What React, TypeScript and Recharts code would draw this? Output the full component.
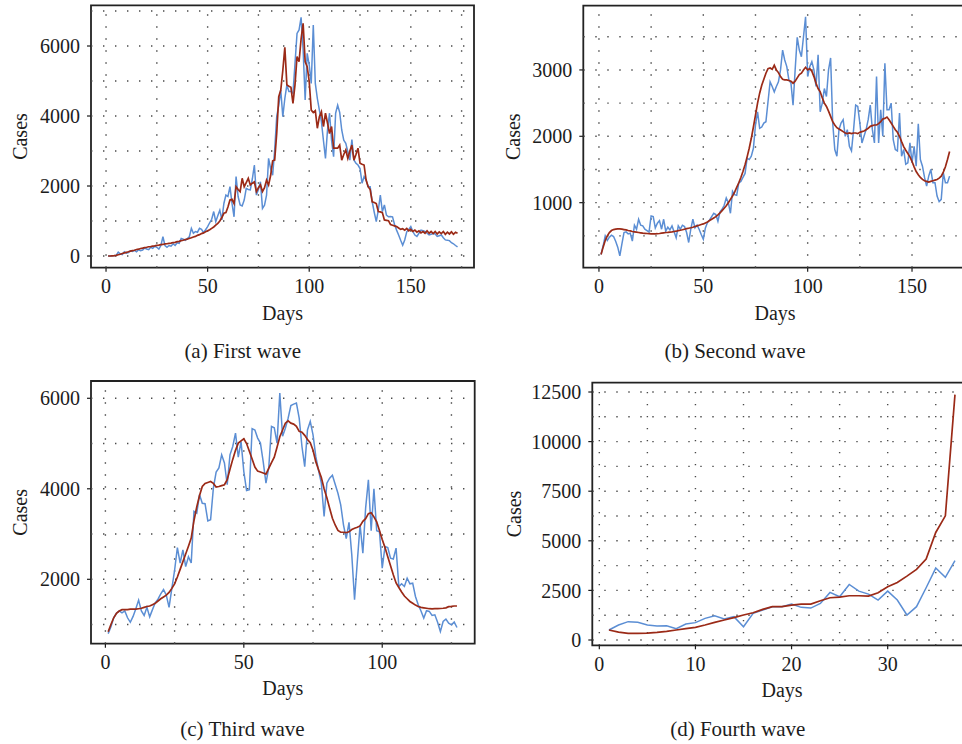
import React from 'react';
import { LineChart, Line, XAxis, YAxis, ReferenceLine, ReferenceArea } from 'recharts';

const FONT = '"Liberation Serif", "Times New Roman", serif';
const BLUE = '#5b8ed4';
const RED = '#9b2a17';
const INK = '#1c1c1c';
const GRID = '#4a4a4a';

// ---------- (a) First wave ----------
const observedA = [
  0, 0, 5, 10, 20, 110, 60, 40, 120, 80, 100, 150, 130, 160, 120, 180, 150, 170, 230, 200,
  180, 250, 220, 280, 250, 200, 300, 550, 300, 250, 300, 280, 350, 300, 380, 360, 500, 480, 450, 500,
  550, 790, 650, 700, 680, 790, 760, 670, 750, 840, 950, 1050, 1270, 980, 1150, 1310, 1030, 1500, 1740, 1700,
  1980, 1500, 1120, 2270, 1700, 1460, 1430, 1600, 1930, 1900, 1890, 2200, 2600, 1740, 1900, 2120, 1360, 1450, 1740, 2790,
  2500, 2310, 3030, 3980, 4300, 4740, 3980, 4500, 4890, 4700, 4700, 4650, 5500, 6360, 6460, 6820, 5890, 4460, 5790, 5460,
  4930, 6600, 4930, 4500, 4170, 3840, 3300, 2790, 3600, 4080, 3300, 2840, 4080, 4310, 4100, 3600, 3310, 3220, 2980, 2740,
  3330, 2740, 2650, 2600, 2500, 2080, 2270, 2170, 1980, 1980, 1550, 1250, 980, 1310, 1740, 1270, 1460, 1170, 1120, 1130,
  1120, 900, 740, 600, 450, 310, 460, 690, 760, 840, 700, 600, 560, 650, 740, 720, 700, 650, 600, 620,
  640, 630, 560, 580, 600, 520, 460, 450, 440, 380, 350, 300, 260,
];
const fittedA = [
  0, 0, 5, 10, 20, 35, 50, 70, 90, 105, 120, 140, 155, 165, 185, 195, 215, 225, 240, 250,
  265, 270, 285, 290, 305, 310, 325, 330, 345, 350, 360, 370, 385, 390, 410, 420, 440, 450, 470, 480,
  505, 520, 545, 560, 590, 610, 640, 660, 690, 720, 750, 790, 830, 880, 930, 1000, 1100, 1220, 1240, 1400,
  1600, 1620, 1500, 1980, 1900, 1840, 2220, 1980, 2100, 2220, 2030, 2080, 2120, 1840, 1950, 2030, 1840, 1950, 2170, 2030,
  2300, 2720, 2740, 3500, 4550, 4740, 5300, 5960, 4890, 4850, 4820, 4360, 4890, 5700, 5550, 6200, 6650, 5550, 5410, 4980,
  4170, 4100, 4150, 3650, 3980, 4120, 3700, 4080, 3800, 3500, 3700, 3080, 3080, 3080, 3170, 2740, 2900, 3030, 2790, 3000,
  3170, 2740, 2900, 3080, 2650, 2620, 2600, 2170, 1980, 1900, 1550, 1530, 1500, 1270, 1260, 1240, 1030, 1020, 1010, 900,
  880, 860, 840, 800, 760, 780, 740, 790, 720, 760, 700, 740, 680, 720, 660, 700, 650, 720, 650, 700,
  640, 700, 630, 690, 640, 700, 620, 680, 630, 690, 620, 680, 650,
];
const xTicksA = [0, 50, 100, 150];
const yTicksA = [0, 2000, 4000, 6000];
const xGridA = [0, 25, 50, 75, 100, 125, 150, 175];
const yGridA = [0, 1000, 2000, 3000, 4000, 5000, 6000, 7000];

// ---------- (b) Second wave ----------
const observedB = [
  220, 350, 500, 430, 480, 510, 490, 420, 330, 200, 380, 550, 560, 530, 540, 420, 660, 600, 750, 660,
  650, 600, 580, 560, 800, 790, 620, 690, 730, 600, 750, 570, 630, 590, 650, 560, 470, 650, 600, 660,
  640, 550, 400, 600, 750, 620, 660, 600, 520, 450, 620, 700, 740, 790, 840, 820, 720, 860, 900, 960,
  1070, 1000, 840, 1170, 1120, 1110, 1300, 1320, 1380, 1440, 1670, 1650, 1700, 1820, 2170, 2370, 2120, 2140, 2200, 2220,
  2520, 2820, 2750, 2670, 2750, 2820, 3000, 3300, 3150, 3050, 2850, 2800, 2470, 3000, 3490, 3300, 3200, 3500, 3800, 2900,
  3050, 3125, 3000, 2750, 3230, 2370, 2500, 2720, 2600, 3000, 3180, 2200, 1800, 1700, 2100, 2200, 2250, 2000, 2100, 1850,
  1780, 2100, 2470, 2450, 2200, 1900, 2000, 2100, 2250, 2470, 2100, 1900, 2900, 1900, 2400, 2000, 3100, 2400, 2400, 2500,
  1950, 1800, 1780, 2350, 1700, 1800, 1580, 1600, 1900, 1600, 1850, 1550, 2190, 1650, 1550, 1380, 1250, 1400, 1500, 1300,
  1300, 1100, 1015, 1050, 1450, 1300, 1300, 1400,
];
const fittedB = [
  220, 330, 430, 500, 550, 580, 595, 600, 605, 605, 600, 595, 590, 580, 575, 565, 560, 555, 550, 545,
  540, 538, 535, 533, 530, 530, 530, 532, 535, 540, 545, 550, 553, 557, 560, 565, 570, 578, 585, 592,
  600, 608, 615, 622, 630, 640, 650, 660, 670, 680, 695, 710, 730, 750, 770, 790, 815, 845, 880, 915,
  955, 1000, 1050, 1100, 1160, 1230, 1300, 1380, 1470, 1570, 1690, 1820, 1970, 2140, 2320, 2500, 2650, 2770, 2860, 2950,
  3020, 3030, 3010, 3070, 3000, 2960, 2900, 2860, 2850, 2850, 2840, 2830, 2800, 2830, 2880, 2930, 2950, 3000, 3040, 3000,
  3020, 2980, 2900, 2800, 2720, 2670, 2580, 2500, 2450, 2380, 2300, 2220, 2170, 2130, 2110, 2090, 2070, 2050, 2040, 2050,
  2040, 2050, 2050, 2040, 2060, 2070, 2080, 2100, 2120, 2150, 2160, 2170, 2170, 2190, 2220, 2260, 2270, 2290, 2250, 2200,
  2150, 2100, 2060, 2000, 1920, 1845, 1790, 1740, 1690, 1620, 1540, 1470, 1420, 1380, 1350, 1330, 1320, 1310, 1320, 1330,
  1340, 1350, 1370, 1400, 1460, 1540, 1650, 1770,
];
const xTicksB = [0, 50, 100, 150];
const yTicksB = [1000, 2000, 3000];
const xGridB = [0, 25, 50, 75, 100, 125, 150, 175];
const yGridB = [500, 1000, 1500, 2000, 2500, 3000, 3500];

// ---------- (c) Third wave ----------
const observedC = [
  800, 950, 1150, 1250, 1300, 1260, 1300, 1150, 1050, 1180, 1350, 1540, 1300, 1200, 1380, 1170, 1330, 1480, 1560, 1680,
  1775, 1650, 1380, 1800, 2200, 2700, 2360, 2650, 2280, 2500, 2360, 3500, 3460, 3870, 3680, 3670, 3290, 3315, 4015, 4370,
  4460, 4750, 4570, 4090, 4750, 4935, 5230, 4700, 5045, 4380, 3960, 3980, 5330, 5300, 5120, 5010, 4600, 4125, 4460, 5380,
  5350, 5010, 6115, 5160, 5340, 5560, 5840, 5870, 5893, 5560, 4935, 4490, 5300, 5490, 5190, 4715, 4400, 4125, 3390, 4125,
  4236, 4300, 4100, 3900, 3646, 3204, 2900, 3260, 2540, 1547, 2394, 3204, 2578, 3573, 4200, 3072, 4000, 3072, 3050, 2247,
  2725, 2700, 2468, 2450, 2690, 1841, 1900, 1841, 2025, 1900, 1915, 1620, 1437, 1300, 1142, 1305, 1290, 1200, 1215, 1050,
  847, 1068, 1120, 1030, 995, 1055, 935,
];
const fittedC = [
  840, 1000, 1150, 1250, 1300, 1330, 1330, 1330, 1340, 1340, 1340, 1350, 1360, 1380, 1400, 1410, 1440, 1470, 1520, 1570,
  1610, 1650, 1710, 1800, 1900, 2050, 2220, 2390, 2560, 2730, 2910, 3300, 3600, 3850, 4050, 4120, 4140, 4160, 4120, 4040,
  4050, 4070, 4090, 4200, 4430, 4650, 4850, 5010, 5060, 5105, 5000, 4830, 4660, 4480, 4390, 4370, 4350, 4325, 4450, 4580,
  4700, 4920, 5150, 5300, 5450, 5500, 5450, 5430, 5380, 5270, 5250, 5180, 5090, 5020, 4850, 4600, 4420, 4250, 4000, 3800,
  3570, 3350, 3200, 3080, 3040, 3040, 3030, 3050, 3100, 3130, 3150, 3180, 3280, 3340, 3450, 3470, 3380, 3270, 3080, 2880,
  2700, 2500, 2300, 2100, 1920, 1820, 1720, 1630, 1570, 1510, 1470, 1430, 1400, 1380, 1370, 1360, 1350, 1345, 1350, 1350,
  1355, 1360, 1370, 1395, 1400, 1410, 1410,
];
const xTicksC = [0, 50, 100];
const yTicksC = [2000, 4000, 6000];
const xGridC = [0, 25, 50, 75, 100, 125];
const yGridC = [1000, 2000, 3000, 4000, 5000, 6000];

// ---------- (d) Fourth wave ----------
const observedD = [
  504, 755, 925, 890, 755, 705, 720, 570, 805, 875, 1090, 1225, 1060, 1175, 670, 1340, 1510, 1680, 1680, 1810,
  1645, 1610, 1845, 2400, 2180, 2800, 2465, 2315, 2015, 2465, 2015, 1260, 1680, 2635, 3625, 3155, 3995,
];
const fittedD = [
  504, 400, 335, 335, 350, 385, 436, 504, 570, 640, 755, 890, 1010, 1125, 1260, 1375, 1545, 1680, 1680, 1760,
  1810, 1810, 1980, 2130, 2165, 2230, 2230, 2215, 2380, 2685, 2900, 3220, 3560, 4080, 5420, 6260, 12370,
];
const xTicksD = [0, 10, 20, 30];
const yTicksD = [0, 2500, 5000, 7500, 10000, 12500];
const xGridD = [0, 5, 10, 15, 20, 25, 30, 35];
const yGridD = [0, 1250, 2500, 3750, 5000, 6250, 7500, 8750, 10000, 11250, 12500];

const toRows = (obs: number[], fit: number[]) =>
  obs.map((v, i) => ({ day: i + 1, observed: v, fitted: fit[i] }));

type PanelProps = {
  rows: { day: number; observed: number; fitted: number }[];
  xDomain: [number, number];
  yDomain: [number, number];
  xTicks: number[];
  yTicks: number[];
  xGrid: number[];
  yGrid: number[];
  left: number;
  top: number;
  width: number;
  height: number;
  margin: { top: number; right: number; bottom: number; left: number };
  xAxisHeight: number;
  casesOffset: number;
};

const tickStyle = { fill: INK, fontSize: 20, fontFamily: FONT };

function Panel(p: PanelProps) {
  const yAxisWidth = 60;
  return (
    <div style={{ position: 'absolute', left: p.left, top: p.top, width: p.width, height: p.height }}>
      <LineChart width={p.width} height={p.height} data={p.rows} margin={p.margin}>
        <XAxis
          dataKey="day"
          type="number"
          domain={p.xDomain}
          allowDataOverflow
          ticks={p.xTicks}
          interval={0}
          height={p.xAxisHeight}
          axisLine={false}
          tickLine={{ stroke: INK, strokeWidth: 1.2 }}
          tickSize={4}
          tickMargin={7.4}
          tick={tickStyle}
          label={{
            content: (props: any) => {
              const vb = props.viewBox || {};
              return (
                <text
                  x={vb.x + vb.width / 2}
                  y={vb.y + vb.height}
                  textAnchor="middle"
                  fill={INK}
                  fontSize={20}
                  fontFamily={FONT}
                >
                  Days
                </text>
              );
            },
          }}
        />
        <YAxis
          type="number"
          domain={p.yDomain}
          allowDataOverflow
          ticks={p.yTicks}
          interval={0}
          width={yAxisWidth}
          axisLine={false}
          tickLine={{ stroke: INK, strokeWidth: 1.2 }}
          tickSize={4}
          tickMargin={7}
          tick={tickStyle}
          label={{
            content: (props: any) => {
              const vb = props.viewBox || {};
              const x = vb.x + vb.width - p.casesOffset;
              const y = vb.y + vb.height / 2;
              return (
                <text
                  x={x}
                  y={y}
                  transform={`rotate(-90, ${x}, ${y})`}
                  textAnchor="middle"
                  fill={INK}
                  fontSize={20}
                  fontFamily={FONT}
                >
                  Cases
                </text>
              );
            },
          }}
        />
        {p.yGrid.map((v) => (
          <ReferenceLine
            key={`h${v}`}
            y={v}
            stroke={GRID}
            strokeWidth={1.4}
            strokeDasharray="1.4 10.6"
          />
        ))}
        {p.xGrid.map((v) => (
          <ReferenceLine
            key={`v${v}`}
            x={v}
            stroke={GRID}
            strokeWidth={1.4}
            strokeDasharray="1.4 10.6"
          />
        ))}
        <Line
          type="linear"
          dataKey="observed"
          stroke={BLUE}
          strokeWidth={1.5}
          dot={false}
          isAnimationActive={false}
        />
        <Line
          type="linear"
          dataKey="fitted"
          stroke={RED}
          strokeWidth={1.7}
          dot={false}
          isAnimationActive={false}
        />
        <ReferenceArea
          x1={p.xDomain[0]}
          x2={p.xDomain[1]}
          y1={p.yDomain[0]}
          y2={p.yDomain[1]}
          fill="none"
          fillOpacity={0}
          stroke="#222"
          strokeWidth={1.8}
        />
      </LineChart>
    </div>
  );
}

const captions = [
  { text: '(a) First wave', x: 242.7, y: 358 },
  { text: '(b) Second wave', x: 735, y: 358 },
  { text: '(c) Third wave', x: 242.5, y: 735.5 },
  { text: '(d) Fourth wave', x: 737.8, y: 735.5 },
];

export default function App() {
  return (
    <div
      style={{
        position: 'absolute',
        left: 0,
        top: 0,
        width: 962,
        height: 744,
        overflow: 'hidden',
        background: '#fff',
        fontFamily: FONT,
      }}
    >
      <Panel
        rows={toRows(observedA, fittedA)}
        xDomain={[-7.4, 181.1]}
        yDomain={[-334, 7163]}
        xTicks={xTicksA}
        yTicks={yTicksA}
        xGrid={xGridA}
        yGrid={yGridA}
        left={0}
        top={0}
        width={480}
        height={372}
        margin={{ top: 5.3, right: 6, bottom: 52.3, left: 31 }}
        xAxisHeight={52}
        casesOffset={64}
      />
      <Panel
        rows={toRows(observedB, fittedB)}
        xDomain={[-7.5, 176.2]}
        yDomain={[20, 3968]}
        xTicks={xTicksB}
        yTicks={yTicksB}
        xGrid={xGridB}
        yGrid={yGridB}
        left={480}
        top={0}
        width={492}
        height={372}
        margin={{ top: 5.7, right: 5.3, bottom: 52.3, left: 43.3 }}
        xAxisHeight={52}
        casesOffset={62.8}
      />
      <Panel
        rows={toRows(observedC, fittedC)}
        xDomain={[-5.2, 133.4]}
        yDomain={[577, 6382]}
        xTicks={xTicksC}
        yTicks={yTicksC}
        xGrid={xGridC}
        yGrid={yGridC}
        left={0}
        top={372}
        width={480}
        height={372}
        margin={{ top: 9, right: 5.3, bottom: 49, left: 31 }}
        xAxisHeight={51.3}
        casesOffset={63.7}
      />
      <Panel
        rows={toRows(observedD, fittedD)}
        xDomain={[-0.73, 38.74]}
        yDomain={[-267, 12969]}
        xTicks={xTicksD}
        yTicks={yTicksD}
        xGrid={xGridD}
        yGrid={yGridD}
        left={480}
        top={372}
        width={496}
        height={372}
        margin={{ top: 10.7, right: 4.3, bottom: 47.5, left: 52.3 }}
        xAxisHeight={51.2}
        casesOffset={71.6}
      />
      <svg
        width={962}
        height={744}
        style={{ position: 'absolute', left: 0, top: 0, pointerEvents: 'none' }}
      >
        {captions.map((c) => (
          <text
            key={c.text}
            x={c.x}
            y={c.y}
            textAnchor="middle"
            fill={INK}
            fontSize={21}
            fontFamily={FONT}
          >
            {c.text}
          </text>
        ))}
      </svg>
    </div>
  );
}
